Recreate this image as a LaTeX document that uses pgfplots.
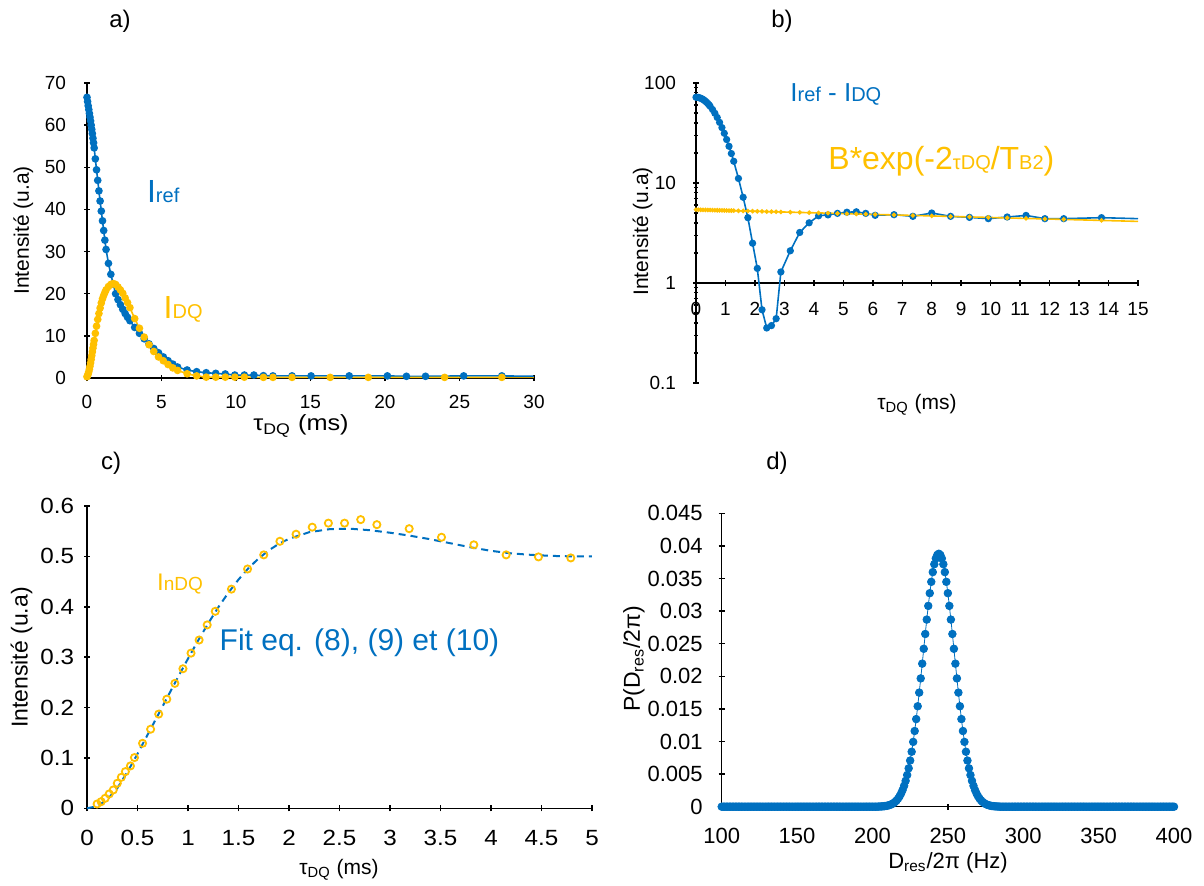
\documentclass[border=0pt]{standalone}
\usepackage{fontspec}
\setmainfont{Liberation Sans}
\usepackage{pgfplots}
\pgfplotsset{compat=1.18}
\definecolor{xblue}{HTML}{0070C0}
\definecolor{xyel}{HTML}{FFC000}
\newcommand{\fs}[1]{\fontsize{#1}{#1}\selectfont}
\pgfplotsset{
  base/.style={
    scale only axis, anchor=south west,
    every tick/.style={line width=0.75pt,black},
    tick align=outside,
    major tick length=3pt, minor tick length=2pt,
    tick label style={font=\fs{9.5}},
    scaled y ticks=false, scaled x ticks=false,
    clip=false,
  },
  noarrows/.style={
    axis line style={line width=0.75pt,-,black},
    every inner x axis line/.append style={-},
    every outer x axis line/.append style={-},
    every inner y axis line/.append style={-},
    every outer y axis line/.append style={-},
  }
}
\begin{document}
\begin{tikzpicture}
% ---------------- panel a
\begin{axis}[base, at={(43.5pt,253.5pt)}, width=223.5pt, height=147.5pt,
  xmin=0, xmax=30, ymin=0, ymax=70,
  axis x line=bottom, axis y line=left, noarrows,
  xticklabel style={yshift=-3.5pt}, yticklabel style={xshift=-5.5pt},
  xtick={0,5,10,15,20,25,30}, xticklabels={0,5,10,15,20,25,30},
  ytick={0,10,20,30,40,50,60,70}, yticklabels={0,10,20,30,40,50,60,70}]
\addplot[xblue, line width=0.8pt, mark=*, mark size=1.5pt] table {
0 66.6
0.04 65.6
0.08 64.6
0.12 63.7
0.16 62.8
0.20 61.9
0.24 61.0
0.28 60.0
0.32 59.0
0.36 58.0
0.40 56.9
0.44 55.8
0.48 54.6
0.56 52.0
0.64 49.4
0.72 46.9
0.80 44.4
0.88 42.0
0.96 39.6
1.04 37.3
1.12 35.0
1.20 32.7
1.28 30.5
1.44 27.2
1.60 24.6
1.76 22.3
1.92 20.0
2.08 18.6
2.24 17.4
2.40 16.3
2.56 15.3
2.72 14.4
2.88 13.6
3.20 12.0
3.52 10.6
3.84 9.3
4.16 8.1
4.48 7.0
4.80 6.0
5.12 5.0
5.44 4.1
5.76 3.3
6.08 2.6
6.72 1.9
7.36 1.5
8.00 1.25
8.64 1.1
9.28 0.95
9.92 0.7
10.56 0.7
11.20 0.7
11.84 0.55
12.48 0.5
13.76 0.5
15.04 0.5
17.60 0.5
20.16 0.5
21.44 0.4
22.72 0.4
25.28 0.5
27.84 0.5
};
\addplot[xblue, line width=0.8pt] coordinates {(27.84,0.5)(30,0.4)};
\addplot[xyel, line width=0.8pt, mark=*, mark size=1.5pt] table {
0 0.3
0.04 0.6
0.08 1.0
0.12 1.5
0.16 2.1
0.20 2.8
0.24 3.6
0.28 4.4
0.32 5.3
0.36 6.2
0.40 7.1
0.44 8.0
0.48 8.9
0.56 10.6
0.64 12.3
0.72 13.9
0.80 15.3
0.88 16.6
0.96 17.8
1.04 18.8
1.12 19.6
1.20 20.3
1.28 20.9
1.44 21.7
1.60 22.2
1.76 22.4
1.92 22.2
2.08 21.6
2.24 20.9
2.40 20.1
2.56 19.0
2.72 17.9
2.88 16.7
3.20 14.1
3.52 11.8
3.84 9.7
4.16 7.9
4.48 6.3
4.80 5.0
5.12 4.1
5.44 3.2
5.76 2.4
6.08 1.8
6.72 1.0
7.36 0.5
8.00 0.2
8.64 0.2
9.28 0.2
9.92 0.2
10.56 0.2
11.84 0.15
12.48 0.15
13.76 0.15
16.32 0.15
18.88 0.15
24.00 0.15
27.84 0.15
};
\addplot[xyel!80!black, line width=0.6pt] coordinates {(27.84,0.15)(30,0.15)};
\end{axis}
% ---------------- panel b
\begin{axis}[base, at={(348pt,251pt)}, width=221pt, height=150pt,
  ymode=log, xmin=0, xmax=15, ymin=0.1, ymax=100,
  axis x line=middle, axis y line=left, noarrows,
  xticklabel style={yshift=-4.5pt}, yticklabel style={xshift=-5pt},
  xtick={0,1,...,15}, xticklabels={0,1,2,3,4,5,6,7,8,9,10,11,12,13,14,15},
  ytick={0.1,1,10,100}, yticklabels={0.1,1,10,100}]
\addplot[xblue, line width=0.8pt, mark=*, mark size=1.4pt] table {
0 72.0
0.04 71.9
0.08 71.6
0.12 71.1
0.16 70.4
0.20 69.5
0.24 68.4
0.28 67.1
0.32 65.7
0.36 64.1
0.40 62.4
0.44 60.5
0.48 58.5
0.56 54.3
0.64 49.8
0.72 45.2
0.80 40.4
0.88 35.8
0.96 31.4
1.04 27.2
1.12 23.3
1.20 19.7
1.28 16.5
1.44 11.1
1.60 7.2
1.76 4.5
1.92 2.5
2.08 1.4
2.24 0.54
2.40 0.355
2.56 0.375
2.72 0.44
2.88 1.29
3.20 2.1
3.52 3.2
3.84 4.0
4.16 4.7
4.48 4.8
4.80 4.97
5.12 5.1
5.44 5.15
5.76 4.97
6.08 4.75
6.72 4.82
7.36 4.64
8.00 5.01
8.64 4.64
9.28 4.53
9.92 4.40
10.56 4.57
11.20 4.74
11.84 4.40
12.48 4.40
13.76 4.50
};
\addplot[xblue, line width=0.8pt] coordinates {(13.76,4.50)(15,4.40)};
\addplot[xyel, line width=0.8pt, mark=*, mark size=0.7pt] table {
0 5.410
0.08 5.402
0.16 5.394
0.24 5.387
0.32 5.379
0.40 5.371
0.48 5.363
0.56 5.356
0.64 5.348
0.72 5.340
0.80 5.333
0.88 5.325
0.96 5.317
1.04 5.310
1.12 5.302
1.20 5.294
1.28 5.287
1.44 5.272
1.60 5.256
1.76 5.241
1.92 5.226
2.08 5.211
2.24 5.196
2.40 5.181
2.56 5.166
2.72 5.152
2.88 5.137
3.20 5.107
3.52 5.078
3.84 5.049
4.16 5.020
4.48 4.991
4.80 4.962
5.12 4.934
5.44 4.905
5.76 4.877
6.08 4.849
6.72 4.794
7.36 4.739
8.00 4.685
8.64 4.631
9.28 4.578
9.92 4.526
10.56 4.474
11.20 4.423
11.84 4.372
12.48 4.322
13.76 4.224
};
\addplot[xyel, line width=0.8pt] coordinates {(13.76,4.224)(15,4.130)};
\end{axis}
% ---------------- panel c
\begin{axis}[base, at={(43.5pt,38.35pt)}, width=252.5pt, height=151.15pt,
  xmin=0, xmax=5, ymin=0, ymax=0.6,
  axis x line=bottom, axis y line=left, noarrows,
  tick label style={font=\fs{11}, xscale=1.1},
  xticklabel style={yshift=-6pt}, yticklabel style={xshift=-1pt},
  xtick={0,0.5,1,1.5,2,2.5,3,3.5,4,4.5,5}, xticklabels={0,0.5,1,1.5,2,2.5,3,3.5,4,4.5,5},
  ytick={0,0.1,0.2,0.3,0.4,0.5,0.6}, yticklabels={0,0.1,0.2,0.3,0.4,0.5,0.6}]
\addplot[xblue, line width=1pt, dash pattern=on 3.5pt off 2.5pt] coordinates {
(0,0) (0.1,0.004) (0.2,0.017) (0.3,0.040) (0.4,0.072) (0.5,0.108) (0.6,0.146)
(0.7,0.184) (0.8,0.222) (0.9,0.260) (1.0,0.297) (1.1,0.333) (1.2,0.367)
(1.3,0.399) (1.4,0.428) (1.5,0.454) (1.6,0.477) (1.7,0.496) (1.8,0.512)
(1.9,0.525) (2.0,0.535) (2.2,0.548) (2.4,0.554) (2.6,0.555) (2.8,0.552)
(3.0,0.547) (3.2,0.541) (3.4,0.534) (3.6,0.526) (3.8,0.518) (4.0,0.511)
(4.2,0.506) (4.4,0.503) (4.6,0.501) (4.8,0.500) (5.0,0.500)};
\addplot[only marks, xyel, mark=o, mark size=1.8pt, mark options={line width=0.9pt}] table {
0.10 0.0086
0.14 0.0132
0.18 0.0199
0.22 0.0285
0.26 0.0364
0.30 0.0497
0.34 0.0616
0.38 0.0728
0.43 0.0841
0.47 0.1007
0.55 0.129
0.63 0.157
0.71 0.187
0.79 0.2166
0.87 0.248
0.95 0.277
1.03 0.308
1.11 0.334
1.19 0.364
1.27 0.391
1.43 0.435
1.59 0.475
1.75 0.503
1.91 0.530
2.07 0.544
2.23 0.558
2.39 0.566
2.55 0.566
2.71 0.573
2.87 0.563
3.19 0.555
3.51 0.538
3.83 0.523
4.15 0.503
4.47 0.499
4.79 0.497
};
\end{axis}
% ---------------- panel d
\begin{axis}[base, at={(360.85pt,39.15pt)}, width=226.15pt, height=146.7pt,
  xmin=100, xmax=400, ymin=0, ymax=0.045,
  axis x line=bottom, axis y line=left, noarrows,
  tick label style={font=\fs{11}},
  xticklabel style={yshift=-5.5pt}, yticklabel style={xshift=-4.5pt},
  xtick={100,150,200,250,300,350,400}, xticklabels={100,150,200,250,300,350,400},
  ytick={0,0.005,0.01,0.015,0.02,0.025,0.03,0.035,0.04,0.045},
  yticklabels={0,0.005,0.01,0.015,0.02,0.025,0.03,0.035,0.04,0.045}]
\addplot[xblue, line width=0.4pt, mark=*, mark size=1.9pt] coordinates {
(100,0)(101,0)(102,0)(103,0)(104,0)(105,0)(106,0)(107,0)(108,0)(109,0)
(110,0)(111,0)(112,0)(113,0)(114,0)(115,0)(116,0)(117,0)(118,0)(119,0)
(120,0)(121,0)(122,0)(123,0)(124,0)(125,0)(126,0)(127,0)(128,0)(129,0)
(130,0)(131,0)(132,0)(133,0)(134,0)(135,0)(136,0)(137,0)(138,0)(139,0)
(140,0)(141,0)(142,0)(143,0)(144,0)(145,0)(146,0)(147,0)(148,0)(149,0)
(150,0)(151,0)(152,0)(153,0)(154,0)(155,0)(156,0)(157,0)(158,0)(159,0)
(160,0)(161,0)(162,0)(163,0)(164,0)(165,0)(166,0)(167,0)(168,0)(169,0)
(170,0)(171,0)(172,0)(173,0)(174,0)(175,0)(176,0)(177,0)(178,0)(179,0)
(180,0)(181,0)(182,0)(183,0)(184,0)(185,0)(186,0)(187,0)(188,0)(189,0)
(190,0)(191,0)(192,0)(193,0)(194,0)(195,0)(196,0)(197,0)(198,0)(199,0)
(200,0)(201,0)(202,0)(203,0)
(204,0.0000206)(205,0.0000300)(206,0.0000430)(207,0.0000612)(208,0.0000863)
(209,0.000121)(210,0.000167)(211,0.000229)(212,0.000311)(213,0.000419)
(214,0.000558)(215,0.000738)(216,0.000964)(217,0.00125)(218,0.00160)
(219,0.00204)(220,0.00257)(221,0.00321)(222,0.00397)(223,0.00486)
(224,0.00589)(225,0.00708)(226,0.00843)(227,0.00994)(228,0.01161)
(229,0.01344)(230,0.01541)(231,0.01750)(232,0.01968)(233,0.02194)
(234,0.02422)(235,0.02649)(236,0.02870)(237,0.03080)(238,0.03275)
(239,0.03449)(240,0.03598)(241,0.03719)(242,0.03808)(243,0.03862)
(244,0.03880)
(245,0.03862)(246,0.03808)(247,0.03719)(248,0.03598)(249,0.03449)
(250,0.03275)(251,0.03080)(252,0.02870)(253,0.02649)(254,0.02422)
(255,0.02194)(256,0.01968)(257,0.01750)(258,0.01541)(259,0.01344)
(260,0.01161)(261,0.00994)(262,0.00843)(263,0.00708)(264,0.00589)
(265,0.00486)(266,0.00397)(267,0.00321)(268,0.00257)(269,0.00204)
(270,0.00160)(271,0.00125)(272,0.000964)(273,0.000738)(274,0.000558)
(275,0.000419)(276,0.000311)(277,0.000229)(278,0.000167)(279,0.000121)
(280,0.0000863)(281,0.0000612)(282,0.0000430)(283,0.0000300)(284,0.0000206)
(285,0)(286,0)(287,0)(288,0)(289,0)
(290,0)(291,0)(292,0)(293,0)(294,0)(295,0)(296,0)(297,0)(298,0)(299,0)
(300,0)(301,0)(302,0)(303,0)(304,0)(305,0)(306,0)(307,0)(308,0)(309,0)
(310,0)(311,0)(312,0)(313,0)(314,0)(315,0)(316,0)(317,0)(318,0)(319,0)
(320,0)(321,0)(322,0)(323,0)(324,0)(325,0)(326,0)(327,0)(328,0)(329,0)
(330,0)(331,0)(332,0)(333,0)(334,0)(335,0)(336,0)(337,0)(338,0)(339,0)
(340,0)(341,0)(342,0)(343,0)(344,0)(345,0)(346,0)(347,0)(348,0)(349,0)
(350,0)(351,0)(352,0)(353,0)(354,0)(355,0)(356,0)(357,0)(358,0)(359,0)
(360,0)(361,0)(362,0)(363,0)(364,0)(365,0)(366,0)(367,0)(368,0)(369,0)
(370,0)(371,0)(372,0)(373,0)(374,0)(375,0)(376,0)(377,0)(378,0)(379,0)
(380,0)(381,0)(382,0)(383,0)(384,0)(385,0)(386,0)(387,0)(388,0)(389,0)
(390,0)(391,0)(392,0)(393,0)(394,0)(395,0)(396,0)(397,0)(398,0)(399,0)
(400,0)};
\end{axis}
% ---------------- texts
\node[font=\fs{12}] at (60pt,432pt) {a)};
\node[font=\fs{12}] at (391pt,432pt) {b)};
\node[font=\fs{12}] at (55.5pt,211pt) {c)};
\node[font=\fs{12}] at (388.5pt,211pt) {d)};
\node[font=\fs{9.5}] at (348pt,288pt) {0};
\node[rotate=90, font=\fs{10.5}] at (11.7pt,327.25pt) {Intensité (u.a)};
\node[rotate=90, font=\fs{10.5}] at (321.25pt,326.75pt) {Intensité (u.a)};
\node[rotate=90, font=\fs{11.5}] at (10.8pt,113.75pt) {Intensité (u.a)};
\node[rotate=90, font=\fs{11.5}] at (317pt,113pt) {P(D\textsubscript{res}/2π)};
\node[font=\fs{11}, xscale=1.15] at (150.5pt,229.5pt) {τ\textsubscript{DQ} (ms)};
\node[font=\fs{10.5}] at (458.5pt,240pt) {τ\textsubscript{DQ} (ms)};
\node[font=\fs{10.5}] at (169.5pt,7.5pt) {τ\textsubscript{DQ} (ms)};
\node[font=\fs{11}] at (474pt,11pt) {D\textsubscript{res}/2π (Hz)};
\node[anchor=base west, inner sep=0pt, text=xblue] at (73.35pt,341.15pt) {\fs{16}I\fs{10}ref};
\node[anchor=base west, inner sep=0pt, text=xyel] at (81.65pt,283.35pt) {\fs{16}I\fs{10}DQ};
\node[anchor=base west, inner sep=0pt, text=xblue] at (395pt,391.65pt) {\fs{13}I\fs{10}ref\fs{13} - I\fs{10}DQ};
\node[anchor=base west, inner sep=0pt, text=xyel] at (414pt,357.5pt) {\fs{16}B*exp(-2\fs{10}τDQ\fs{16}/T\fs{10}B2\fs{16})};
\node[anchor=base west, inner sep=0pt, text=xyel] at (78.35pt,147.15pt) {\fs{12}I\fs{9.5}nDQ};
\node[anchor=base west, inner sep=0pt, text=xblue] at (109.65pt,117.5pt) {\fs{15}Fit eq. (8), (9) et (10)};
\pgfresetboundingbox
\path[use as bounding box] (0,0) rectangle (602pt,442.5pt);
\end{tikzpicture}
\end{document}
